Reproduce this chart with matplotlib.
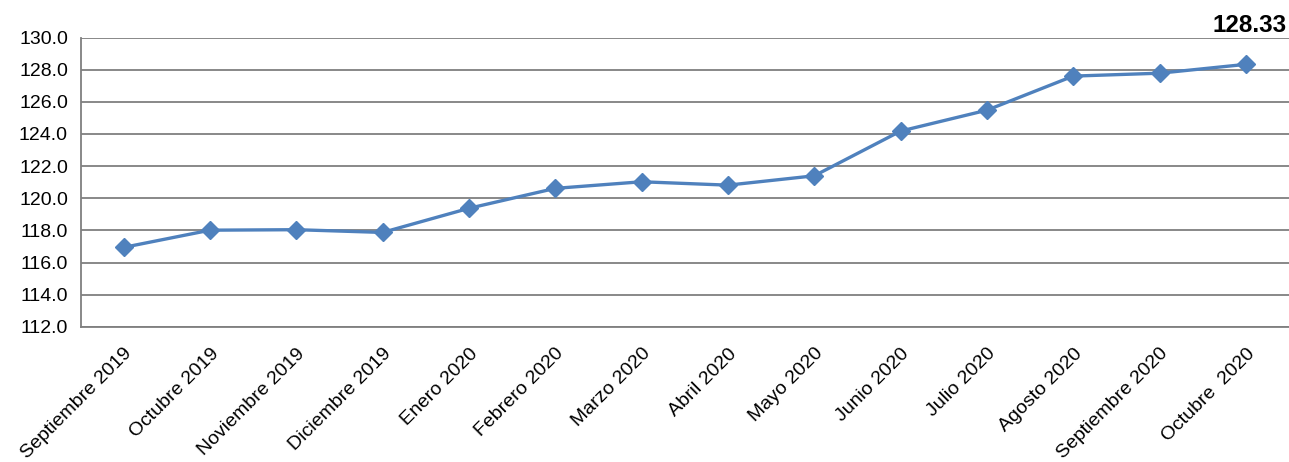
import matplotlib
matplotlib.use("Agg")
import matplotlib.pyplot as plt

categories = ["Septiembre 2019", "Octubre 2019", "Noviembre 2019", "Diciembre 2019",
              "Enero 2020", "Febrero 2020", "Marzo 2020", "Abril 2020", "Mayo 2020",
              "Junio 2020", "Julio 2020", "Agosto 2020", "Septiembre 2020", "Octubre  2020"]
values = [116.95, 118.02, 118.05, 117.88, 119.38, 120.62, 121.03, 120.82, 121.40,
          124.18, 125.48, 127.60, 127.78, 128.33]
yticks = [112, 114, 116, 118, 120, 122, 124, 126, 128, 130]
last_label = "128.33"

plt.rcParams['font.family'] = ['Liberation Sans', 'DejaVu Sans']
fig = plt.figure(figsize=(12.89, 4.62), dpi=100)
ax = fig.add_axes([80.5/1289, 1 - 327/462, (1289 - 80.5)/1289, (327 - 37.5)/462])

x = list(range(len(categories)))
ax.plot(x, values, color="#4F81BD", linewidth=2.4, marker="D", markersize=9.5,
        markerfacecolor="#4F81BD", markeredgecolor="#4F81BD", zorder=3)

ax.set_xlim(-0.5, len(categories) - 0.5)
ax.set_ylim(112, 130)
ax.set_yticks(yticks)
ax.set_yticklabels([f"{v:.1f}" for v in yticks], fontsize=14)
ax.yaxis.grid(True, color="#7F7F7F", linewidth=1.3)
ax.set_axisbelow(True)
ax.set_xticks(x)
ax.set_xticklabels(categories, rotation=45, ha="right", rotation_mode="anchor", fontsize=14)
ax.tick_params(axis="y", length=0, pad=9)
ax.tick_params(axis="x", length=0, pad=13)

for side in ["top", "right"]:
    ax.spines[side].set_visible(False)
ax.spines["left"].set_color("#7F7F7F")
ax.spines["bottom"].set_color("#7F7F7F")
ax.spines["left"].set_linewidth(1.3)
ax.spines["bottom"].set_linewidth(1.3)

fig.text(1287/1289, 1 - 25/462, last_label, ha="right", va="center",
         fontsize=17.5, fontweight="bold")

fig.savefig("out.png", dpi=100)
